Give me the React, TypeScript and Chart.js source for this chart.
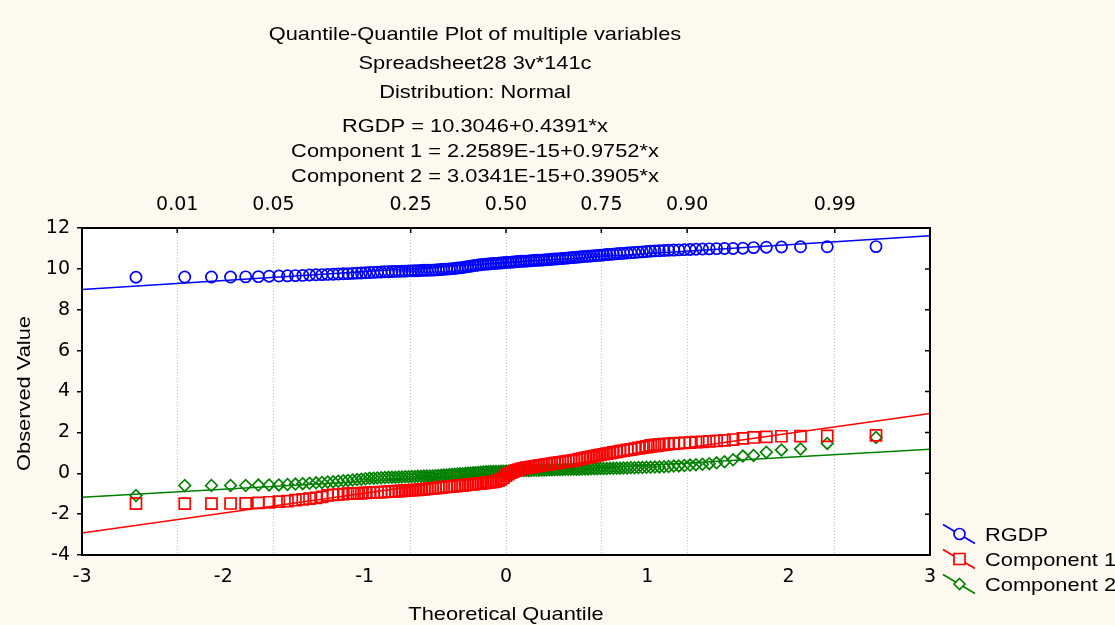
import React, { useEffect, useRef } from "react";
import { Chart, registerables } from "chart.js";

Chart.register(...registerables);

// Theoretical normal quantiles of the 141 ordered cases
const QUANTILES = [
  -2.618, -2.273, -2.084, -1.949, -1.842, -1.752, -1.676, -1.607, -1.546, -1.490,
  -1.438, -1.390, -1.344, -1.302, -1.262, -1.223, -1.187, -1.151, -1.118, -1.085,
  -1.054, -1.023, -0.994, -0.965, -0.937, -0.910, -0.883, -0.857, -0.832, -0.807,
  -0.783, -0.759, -0.736, -0.713, -0.690, -0.668, -0.646, -0.624, -0.602, -0.581,
  -0.560, -0.539, -0.519, -0.499, -0.479, -0.459, -0.440, -0.420, -0.401, -0.382,
  -0.363, -0.344, -0.325, -0.307, -0.288, -0.270, -0.252, -0.233, -0.215, -0.197,
  -0.179, -0.161, -0.143, -0.125, -0.107, -0.089, -0.071, -0.053, -0.036, -0.018,
  0,
  0.018, 0.036, 0.053, 0.071, 0.089, 0.107, 0.125, 0.143, 0.161, 0.179,
  0.197, 0.215, 0.233, 0.252, 0.270, 0.288, 0.307, 0.325, 0.344, 0.363,
  0.382, 0.401, 0.420, 0.440, 0.459, 0.479, 0.499, 0.519, 0.539, 0.560,
  0.581, 0.602, 0.624, 0.646, 0.668, 0.690, 0.713, 0.736, 0.759, 0.783,
  0.807, 0.832, 0.857, 0.883, 0.910, 0.937, 0.965, 0.994, 1.023, 1.054,
  1.085, 1.118, 1.151, 1.187, 1.223, 1.262, 1.302, 1.344, 1.390, 1.438,
  1.490, 1.546, 1.607, 1.676, 1.752, 1.842, 1.949, 2.084, 2.273, 2.618,
];

const RGDP = [
  9.59, 9.60, 9.60, 9.60, 9.61, 9.62, 9.64, 9.65, 9.66, 9.67,
  9.68, 9.70, 9.71, 9.72, 9.73, 9.74, 9.75, 9.76, 9.77, 9.78,
  9.79, 9.80, 9.81, 9.82, 9.83, 9.84, 9.85, 9.86, 9.86, 9.87,
  9.88, 9.88, 9.89, 9.89, 9.90, 9.90, 9.91, 9.91, 9.92, 9.93,
  9.93, 9.94, 9.94, 9.95, 9.96, 9.97, 9.98, 9.99, 10.00, 10.01,
  10.02, 10.04, 10.05, 10.07, 10.09, 10.11, 10.13, 10.15, 10.17, 10.19,
  10.20, 10.22, 10.23, 10.24, 10.25, 10.26, 10.27, 10.28, 10.29, 10.30,
  10.31,
  10.32, 10.33, 10.34, 10.35, 10.36, 10.37, 10.37, 10.38, 10.39, 10.40,
  10.41, 10.42, 10.42, 10.43, 10.44, 10.45, 10.46, 10.47, 10.48, 10.49,
  10.50, 10.51, 10.52, 10.53, 10.55, 10.56, 10.57, 10.58, 10.60, 10.61,
  10.62, 10.63, 10.64, 10.66, 10.67, 10.68, 10.70, 10.71, 10.72, 10.74,
  10.75, 10.76, 10.78, 10.79, 10.80, 10.82, 10.83, 10.85, 10.86, 10.88,
  10.89, 10.90, 10.91, 10.92, 10.93, 10.94, 10.95, 10.96, 10.97, 10.98,
  10.99, 11.00, 11.00, 11.01, 11.04, 11.06, 11.07, 11.08, 11.08, 11.09,
];

const COMPONENT_1 = [
  -1.49, -1.49, -1.49, -1.48, -1.47, -1.45, -1.42, -1.39, -1.36, -1.32,
  -1.28, -1.24, -1.20, -1.16, -1.08, -1.06, -1.04, -1.02, -1.00, -0.99,
  -0.98, -0.97, -0.96, -0.95, -0.94, -0.93, -0.92, -0.91, -0.90, -0.89,
  -0.88, -0.87, -0.86, -0.85, -0.84, -0.83, -0.82, -0.81, -0.80, -0.79,
  -0.76, -0.75, -0.74, -0.73, -0.71, -0.70, -0.68, -0.67, -0.66, -0.64,
  -0.63, -0.62, -0.60, -0.59, -0.58, -0.56, -0.55, -0.54, -0.52, -0.51,
  -0.50, -0.48, -0.47, -0.45, -0.44, -0.42, -0.40, -0.36, -0.30, -0.22,
  -0.12,
  -0.04, 0.03, 0.09, 0.14, 0.18, 0.21, 0.24, 0.27, 0.29, 0.31,
  0.33, 0.35, 0.37, 0.39, 0.41, 0.43, 0.45, 0.47, 0.49, 0.51,
  0.53, 0.55, 0.57, 0.59, 0.61, 0.63, 0.66, 0.69, 0.72, 0.75,
  0.78, 0.81, 0.84, 0.87, 0.90, 0.93, 0.96, 0.99, 1.02, 1.05,
  1.08, 1.11, 1.14, 1.17, 1.21, 1.24, 1.28, 1.32, 1.36, 1.39,
  1.41, 1.43, 1.44, 1.46, 1.47, 1.49, 1.50, 1.52, 1.54, 1.56,
  1.58, 1.61, 1.65, 1.71, 1.75, 1.78, 1.81, 1.82, 1.83, 1.85,
];

const COMPONENT_2 = [
  -1.09, -0.60, -0.60, -0.60, -0.60, -0.58, -0.57, -0.57, -0.55, -0.53,
  -0.51, -0.49, -0.47, -0.45, -0.43, -0.41, -0.39, -0.37, -0.35, -0.33,
  -0.31, -0.29, -0.27, -0.25, -0.24, -0.23, -0.22, -0.21, -0.20, -0.19,
  -0.19, -0.18, -0.18, -0.17, -0.17, -0.16, -0.16, -0.15, -0.15, -0.14,
  -0.14, -0.13, -0.13, -0.12, -0.11, -0.10, -0.09, -0.08, -0.07, -0.06,
  -0.05, -0.04, -0.03, -0.02, -0.01, 0.00, 0.01, 0.02, 0.03, 0.04,
  0.05, 0.06, 0.07, 0.07, 0.08, 0.08, 0.09, 0.09, 0.10, 0.10,
  0.11,
  0.11, 0.12, 0.12, 0.12, 0.13, 0.13, 0.13, 0.14, 0.14, 0.14,
  0.15, 0.15, 0.15, 0.16, 0.16, 0.16, 0.17, 0.17, 0.17, 0.18,
  0.18, 0.18, 0.19, 0.19, 0.19, 0.20, 0.20, 0.20, 0.21, 0.21,
  0.21, 0.22, 0.22, 0.22, 0.23, 0.23, 0.23, 0.24, 0.24, 0.25,
  0.25, 0.26, 0.26, 0.27, 0.27, 0.28, 0.28, 0.29, 0.29, 0.30,
  0.31, 0.32, 0.33, 0.35, 0.36, 0.38, 0.40, 0.42, 0.44, 0.47,
  0.51, 0.56, 0.66, 0.84, 0.87, 1.03, 1.14, 1.19, 1.46, 1.75,
];

const SERIES_NAMES = ["RGDP", "Component 1", "Component 2"];
const SERIES_COLORS = ["#0000ff", "#ff0000", "#008000"];
const FIT_INTERCEPTS = [10.3046, 2.2589e-15, 3.0341e-15];
const FIT_SLOPES = [0.4391, 0.9752, 0.3905];

const TITLE_LINES = [
  "Quantile-Quantile Plot of multiple variables",
  "Spreadsheet28 3v*141c",
  "Distribution: Normal",
  "RGDP = 10.3046+0.4391*x",
  "Component 1 = 2.2589E-15+0.9752*x",
  "Component 2 = 3.0341E-15+0.3905*x",
];
const X_TITLE = "Theoretical Quantile";
const Y_TITLE = "Observed Value";

const PROB_LABELS = ["0.01", "0.05", "0.25", "0.50", "0.75", "0.90", "0.99"];
const PROB_QUANTILES = [-2.3263, -1.6449, -0.6745, 0, 0.6745, 1.2816, 2.3263];

const X_MIN = -3;
const X_MAX = 3;
const Y_MIN = -4;
const Y_MAX = 12;

const BG = "#fdf9ef";
const TEXT_FONT = '18.5px "Liberation Sans", Arial, sans-serif';
const STRETCH = 1.18;
const TICK_FONT = { family: "DejaVu Sans", size: 19 };

function stretchedText(
  ctx: CanvasRenderingContext2D,
  text: string,
  x: number,
  y: number,
  align: CanvasTextAlign,
  rotate = 0
) {
  ctx.save();
  ctx.translate(x, y);
  if (rotate) ctx.rotate(rotate);
  ctx.scale(STRETCH, 1);
  ctx.font = TEXT_FONT;
  ctx.fillStyle = "#000";
  ctx.textAlign = align;
  ctx.textBaseline = "alphabetic";
  ctx.fillText(text, 0, 0);
  ctx.restore();
}

function drawMarker(ctx: CanvasRenderingContext2D, kind: number, x: number, y: number, color: string) {
  ctx.save();
  ctx.strokeStyle = color;
  ctx.fillStyle = BG;
  ctx.lineWidth = 1.7;
  ctx.beginPath();
  if (kind === 0) {
    ctx.arc(x, y, 5.5, 0, Math.PI * 2);
  } else if (kind === 1) {
    ctx.rect(x - 5.5, y - 5.5, 11, 11);
  } else {
    ctx.moveTo(x, y - 5.5);
    ctx.lineTo(x + 5.5, y);
    ctx.lineTo(x, y + 5.5);
    ctx.lineTo(x - 5.5, y);
    ctx.closePath();
  }
  ctx.fill();
  ctx.stroke();
  ctx.restore();
}

const decorPlugin = {
  id: "decor",
  beforeDraw(chart: any) {
    const { ctx, chartArea } = chart;
    ctx.save();
    ctx.fillStyle = BG;
    ctx.fillRect(0, 0, chart.width, chart.height);
    ctx.fillStyle = "#ffffff";
    ctx.fillRect(chartArea.left, chartArea.top, chartArea.right - chartArea.left, chartArea.bottom - chartArea.top);
    ctx.restore();
  },
  afterDraw(chart: any) {
    const { ctx, chartArea } = chart;
    const { left, right, top, bottom } = chartArea;
    const yScale = chart.scales.y;
    const x2Scale = chart.scales.x2;

    ctx.save();
    ctx.strokeStyle = "#000";
    ctx.lineWidth = 2;
    ctx.strokeRect(left, top, right - left, bottom - top);

    ctx.lineWidth = 1.5;
    ctx.beginPath();
    PROB_QUANTILES.forEach((q) => {
      const px = x2Scale.getPixelForValue(q);
      ctx.moveTo(px, top);
      ctx.lineTo(px, top + 5);
    });
    yScale.ticks.forEach((t: any) => {
      const py = yScale.getPixelForValue(t.value);
      ctx.moveTo(right - 5, py);
      ctx.lineTo(right, py);
    });
    ctx.stroke();
    ctx.restore();

    const baselines = [39.5, 68.5, 98, 131.5, 156.5, 181.5];
    TITLE_LINES.forEach((line, i) => stretchedText(ctx, line, 475, baselines[i], "center"));

    stretchedText(ctx, X_TITLE, (left + right) / 2, 619.5, "center");
    stretchedText(ctx, Y_TITLE, 29.5, (top + bottom) / 2 + 2, "center", -Math.PI / 2);

    const rowY = [534, 559, 584];
    SERIES_NAMES.forEach((name, i) => {
      const cy = rowY[i];
      ctx.save();
      ctx.strokeStyle = SERIES_COLORS[i];
      ctx.lineWidth = 1.7;
      ctx.beginPath();
      ctx.moveTo(943, cy - 9.5);
      ctx.lineTo(975, cy + 9.5);
      ctx.stroke();
      ctx.restore();
      drawMarker(ctx, i, 959.5, cy, SERIES_COLORS[i]);
      stretchedText(ctx, name, 985, cy + 6.5, "left");
    });
  },
};

export default function App() {
  const canvasRef = useRef<HTMLCanvasElement | null>(null);

  useEffect(() => {
    const canvas = canvasRef.current;
    if (!canvas) return;

    const seriesValues = [RGDP, COMPONENT_1, COMPONENT_2];
    const markerStyles = ["circle", "rect", "rectRot"];
    const markerRadii = [5.6, 7.8, 5.8];

    const datasets: any[] = [];
    seriesValues.forEach((vals, s) => {
      datasets.push({
        label: SERIES_NAMES[s],
        data: QUANTILES.map((q, i) => ({ x: q, y: vals[i] })),
        showLine: false,
        pointStyle: markerStyles[s],
        pointRadius: markerRadii[s],
        pointBorderColor: SERIES_COLORS[s],
        pointBackgroundColor: "rgba(0,0,0,0)",
        pointBorderWidth: 1.7,
        borderColor: SERIES_COLORS[s],
      });
    });
    seriesValues.forEach((_, s) => {
      const a = FIT_INTERCEPTS[s];
      const b = FIT_SLOPES[s];
      datasets.push({
        label: SERIES_NAMES[s] + " fit",
        data: [
          { x: X_MIN, y: a + b * X_MIN },
          { x: X_MAX, y: a + b * X_MAX },
        ],
        showLine: true,
        pointRadius: 0,
        borderColor: SERIES_COLORS[s],
        borderWidth: 1.6,
        fill: false,
      });
    });

    const chart = new Chart(canvas, {
      type: "scatter",
      data: { datasets },
      options: {
        responsive: false,
        animation: false,
        devicePixelRatio: 1,
        events: [],
        layout: { padding: { top: 190, right: 185, left: 0, bottom: 0 } },
        plugins: {
          legend: { display: false },
          tooltip: { enabled: false },
          title: { display: false },
        },
        scales: {
          x: {
            type: "linear",
            position: "bottom",
            min: X_MIN,
            max: X_MAX,
            ticks: { stepSize: 1, font: TICK_FONT, color: "#000", padding: 11, maxRotation: 0 },
            grid: { display: false, drawTicks: false },
            border: { display: false },
            afterFit: (s: any) => {
              s.height = 70;
            },
          },
          x2: {
            type: "linear",
            position: "top",
            min: X_MIN,
            max: X_MAX,
            afterBuildTicks: (s: any) => {
              s.ticks = PROB_QUANTILES.map((v) => ({ value: v }));
            },
            ticks: {
              autoSkip: false,
              maxRotation: 0,
              font: TICK_FONT,
              color: "#000",
              padding: 12,
              callback: (_v: any, i: number) => PROB_LABELS[i],
            },
            grid: { display: true, drawOnChartArea: true, drawTicks: false, color: "#c4c4c4", lineWidth: 1 },
            border: { display: false, dash: [1, 2] },
            afterFit: (s: any) => {
              s.height = 38;
            },
          },
          y: {
            type: "linear",
            position: "left",
            min: Y_MIN,
            max: Y_MAX,
            ticks: { stepSize: 2, font: TICK_FONT, color: "#000", padding: 7 },
            grid: { display: true, drawOnChartArea: false, drawTicks: true, tickLength: 5, color: "#000", lineWidth: 1.5 },
            border: { display: false },
            afterFit: (s: any) => {
              s.width = 82;
            },
          },
        },
      } as any,
      plugins: [decorPlugin],
    });

    return () => {
      chart.destroy();
    };
  }, []);

  return (
    <div style={{ position: "absolute", left: 0, top: 0, width: 1115, height: 625, background: BG }}>
      <canvas ref={canvasRef} width={1115} height={625} style={{ display: "block", width: 1115, height: 625 }} />
    </div>
  );
}
